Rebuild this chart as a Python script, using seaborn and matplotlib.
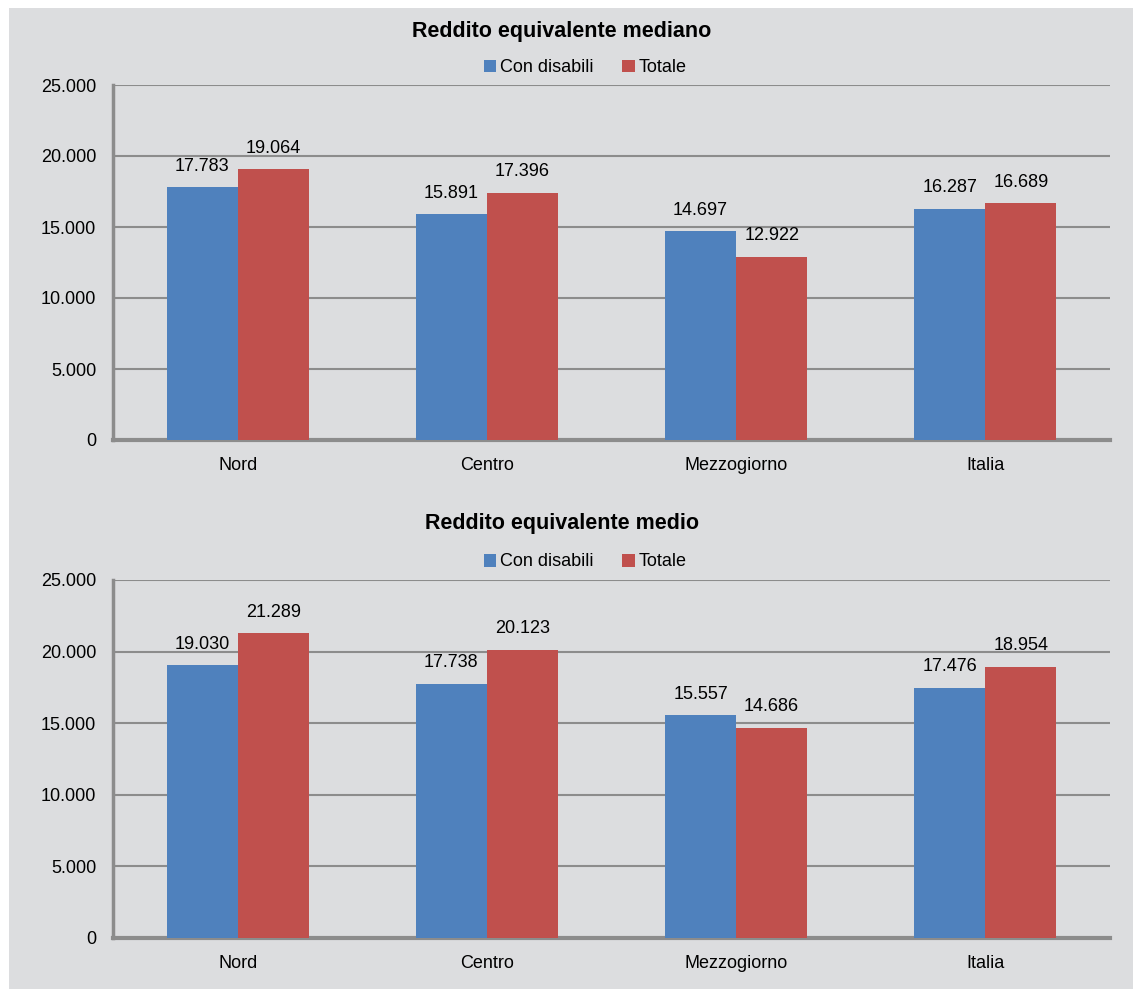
import matplotlib
matplotlib.use("Agg")
import matplotlib.pyplot as plt
import matplotlib.ticker as mticker
from matplotlib.patches import Rectangle
import seaborn as sns
import pandas as pd

regioni = ["Nord", "Centro", "Mezzogiorno", "Italia"]
serie = ["Con disabili", "Totale"]
mediano_disabili = [17783, 15891, 14697, 16287]
mediano_totale = [19064, 17396, 12922, 16689]
medio_disabili = [19030, 17738, 15557, 17476]
medio_totale = [21289, 20123, 14686, 18954]
titoli = ["Reddito equivalente mediano", "Reddito equivalente medio"]

BLU = "#4F81BD"
ROSSO = "#C0504D"
SFONDO = "#DCDDDF"
GRIGIO = "#8C8C8C"

sns.set_theme(style="white")
plt.rcParams["font.family"] = ["Liberation Sans", "DejaVu Sans"]
plt.rcParams["text.color"] = "black"
plt.rcParams["xtick.color"] = "black"
plt.rcParams["ytick.color"] = "black"


def punti(n):
    return f"{n:,.0f}".replace(",", ".")


def grafico(ax, valori_a, valori_b, titolo, y_titolo, y_legenda):
    df = pd.DataFrame({
        "Regione": regioni * 2,
        "Serie": [serie[0]] * 4 + [serie[1]] * 4,
        "Valore": valori_a + valori_b,
    })
    sns.barplot(data=df, x="Regione", y="Valore", hue="Serie", ax=ax,
                palette=[BLU, ROSSO], width=0.57, gap=0, saturation=1,
                edgecolor="none", linewidth=0, errorbar=None, zorder=3)
    ax.set_facecolor(SFONDO)
    ax.set_ylim(0, 25000)
    ax.set_xlim(-0.5, 3.5)
    ax.yaxis.set_major_locator(mticker.MultipleLocator(5000))
    ax.yaxis.set_major_formatter(mticker.FuncFormatter(lambda v, p: punti(v)))
    ax.grid(axis="y", color=GRIGIO, linewidth=1.5, zorder=0)
    ax.set_axisbelow(True)
    for s in ["top", "right"]:
        ax.spines[s].set_visible(False)
    ax.spines["left"].set_color(GRIGIO)
    ax.spines["left"].set_linewidth(2.5)
    ax.spines["bottom"].set_color(GRIGIO)
    ax.spines["bottom"].set_linewidth(3)
    ax.tick_params(axis="both", length=0, labelsize=13, colors="black")
    ax.tick_params(axis="y", pad=12)
    ax.tick_params(axis="x", pad=12)
    ax.set_xlabel("")
    ax.set_ylabel("")
    for cont in ax.containers:
        ax.bar_label(cont, labels=[punti(b.get_height()) for b in cont],
                     padding=9, fontsize=13, color="black")
    fig.text(562 / 1133, y_titolo, titolo, ha="center", va="center",
             fontsize=15.5, fontweight="bold", color="black")
    ax.legend(loc="center", bbox_to_anchor=(585 / 1133, y_legenda),
              bbox_transform=fig.transFigure, ncol=2, frameon=False,
              fontsize=13, handlelength=0.7, handleheight=0.7,
              handletextpad=0.2, columnspacing=1.6, borderaxespad=0)


fig = plt.figure(figsize=(11.33, 9.89), dpi=100)
fig.patch.set_facecolor("white")
fig.patches.append(Rectangle((9 / 1133, 0), 1, 1 - 8 / 989,
                             transform=fig.transFigure, facecolor=SFONDO,
                             edgecolor="none", zorder=-10))

ax1 = fig.add_axes([113 / 1133, 1 - 440 / 989, 997 / 1133, 355 / 989])
ax2 = fig.add_axes([113 / 1133, 1 - 938 / 989, 997 / 1133, 358 / 989])

grafico(ax1, mediano_disabili, mediano_totale, titoli[0],
        1 - 32 / 989, 1 - 68 / 989)
grafico(ax2, medio_disabili, medio_totale, titoli[1],
        1 - 524 / 989, 1 - 562 / 989)

fig.savefig("out.png", dpi=100, facecolor=fig.get_facecolor())
